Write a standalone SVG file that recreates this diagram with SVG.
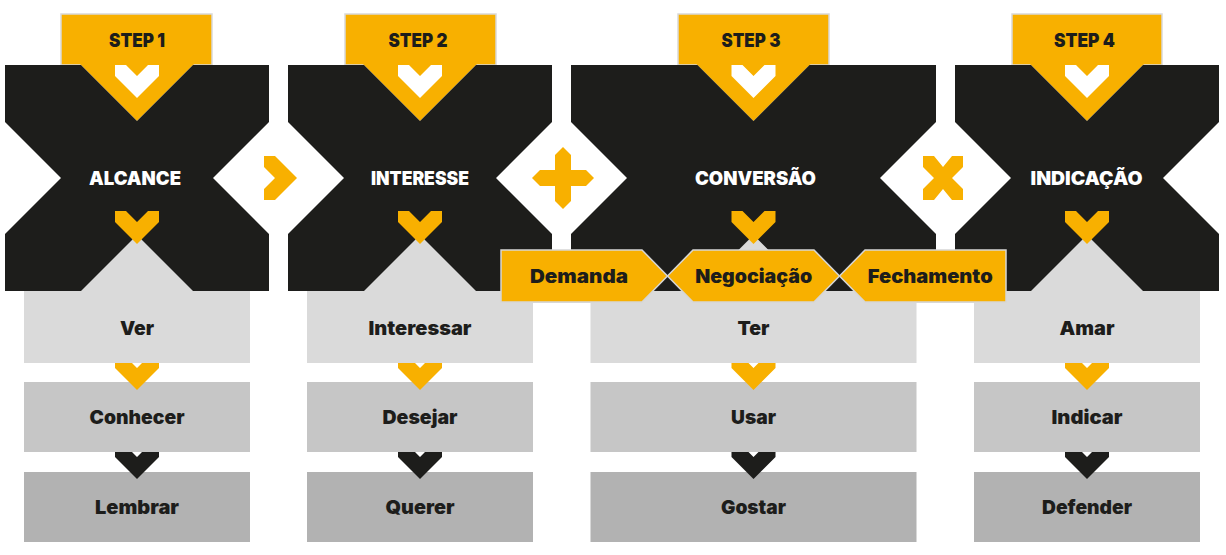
<svg xmlns="http://www.w3.org/2000/svg" xmlns:xlink="http://www.w3.org/1999/xlink" width="1226" height="555" viewBox="0 0 1226 555">
<style>
.blk{fill:#1d1d1b}
.yel{fill:#f8b000}
.tab{fill:#f8b000;stroke:#d9d9d9;stroke-width:1.5}
.stage{fill:#f8b000;stroke:#d6d6d6;stroke-width:1.5}
.b1{fill:#dadada}
.b2{fill:#c6c6c6}
.b3{fill:#b2b2b2}
.t{font-family:Inter,"Noto Sans",sans-serif;font-weight:900;font-size:19px;text-anchor:middle}
.dk{fill:#1d1d1b}
.wt{fill:#ffffff}
</style>
<defs>
<path id="chev" d="M-22,0 h11 l11,11 l11,-11 h11 v11 l-22,22 l-22,-22 z"/>
<path id="cvc" d="M-22,0 h17 l5,5 l5,-5 h17 v5 l-22,22 l-22,-22 z"/>
</defs>
<rect width="1226" height="555" fill="#ffffff"/>

<g id="step1">
<rect class="b3" x="24" y="472" width="226" height="70"/>
<rect class="b2" x="24" y="382" width="226" height="70"/>
<rect class="b1" x="24" y="240" width="226" height="123"/>
<rect class="tab" x="61" y="14" width="151" height="51"/>
<polygon class="yel" points="80,64 194,64 137,121"/>
<polygon class="blk" points="5,65 81,65 137,121 193,65 269,65 269,122 213,178 269,234 269,291 193,291 137,235 81,291 5,291 5,234 61,178 5,122"/>
<use href="#chev" x="137" y="65" fill="#ffffff"/>
<use href="#chev" x="137" y="211" fill="#f8b000"/>
<text class="t dk" x="137" y="47" textLength="56" lengthAdjust="spacingAndGlyphs">STEP 1</text>
<text class="t wt" x="135" y="185" textLength="92" lengthAdjust="spacingAndGlyphs">ALCANCE</text>
<text class="t dk" x="137" y="335" textLength="34" lengthAdjust="spacingAndGlyphs">Ver</text>
<text class="t dk" x="137" y="424" textLength="95" lengthAdjust="spacingAndGlyphs">Conhecer</text>
<text class="t dk" x="137" y="514" textLength="84" lengthAdjust="spacingAndGlyphs">Lembrar</text>
</g>

<g id="step2">
<rect class="b3" x="307" y="472" width="226" height="70"/>
<rect class="b2" x="307" y="382" width="226" height="70"/>
<rect class="b1" x="307" y="240" width="226" height="123"/>
<rect class="tab" x="345" y="14" width="151" height="51"/>
<polygon class="yel" points="363,64 477,64 420,121"/>
<polygon class="blk" points="288,65 364,65 420,121 476,65 552,65 552,122 496,178 552,234 552,291 476,291 420,235 364,291 288,291 288,234 344,178 288,122"/>
<use href="#chev" x="420" y="65" fill="#ffffff"/>
<use href="#chev" x="420" y="211" fill="#f8b000"/>
<text class="t dk" x="418" y="47" textLength="59" lengthAdjust="spacingAndGlyphs">STEP 2</text>
<text class="t wt" x="420" y="185" textLength="98" lengthAdjust="spacingAndGlyphs">INTERESSE</text>
<text class="t dk" x="420" y="335" textLength="103" lengthAdjust="spacingAndGlyphs">Interessar</text>
<text class="t dk" x="420" y="424" textLength="75" lengthAdjust="spacingAndGlyphs">Desejar</text>
<text class="t dk" x="420" y="514" textLength="69" lengthAdjust="spacingAndGlyphs">Querer</text>
</g>

<g id="step3">
<rect class="b3" x="590.5" y="472" width="326" height="70"/>
<rect class="b2" x="590.5" y="382" width="326" height="70"/>
<rect class="b1" x="590.5" y="240" width="326" height="123"/>
<rect class="tab" x="678" y="14" width="151" height="51"/>
<polygon class="yel" points="696.5,64 810.5,64 753.5,121"/>
<polygon class="blk" points="571,65 697.5,65 753.5,121 809.5,65 936,65 936,122 880,178 936,234 936,291 809.5,291 753.5,235 697.5,291 571,291 571,234 627,178 571,122"/>
<use href="#chev" x="753.5" y="65" fill="#ffffff"/>
<use href="#chev" x="753.5" y="211" fill="#f8b000"/>
<text class="t dk" x="751" y="47" textLength="59" lengthAdjust="spacingAndGlyphs">STEP 3</text>
<text class="t wt" x="755.5" y="185" textLength="121" lengthAdjust="spacingAndGlyphs">CONVERSÃO</text>
<text class="t dk" x="753.5" y="335" textLength="32" lengthAdjust="spacingAndGlyphs">Ter</text>
<text class="t dk" x="753.5" y="424" textLength="45" lengthAdjust="spacingAndGlyphs">Usar</text>
<text class="t dk" x="753.5" y="514" textLength="65" lengthAdjust="spacingAndGlyphs">Gostar</text>
</g>

<g id="step4">
<rect class="b3" x="974" y="472" width="226" height="70"/>
<rect class="b2" x="974" y="382" width="226" height="70"/>
<rect class="b1" x="974" y="240" width="226" height="123"/>
<rect class="tab" x="1012" y="14" width="150" height="51"/>
<polygon class="yel" points="1030,64 1144,64 1087,121"/>
<polygon class="blk" points="955,65 1031,65 1087,121 1143,65 1219,65 1219,122 1163,178 1219,234 1219,291 1143,291 1087,235 1031,291 955,291 955,234 1011,178 955,122"/>
<use href="#chev" x="1087" y="65" fill="#ffffff"/>
<use href="#chev" x="1087" y="211" fill="#f8b000"/>
<text class="t dk" x="1084.5" y="47" textLength="61" lengthAdjust="spacingAndGlyphs">STEP 4</text>
<text class="t wt" x="1086.5" y="185" textLength="112" lengthAdjust="spacingAndGlyphs">INDICAÇÃO</text>
<text class="t dk" x="1087" y="335" textLength="55" lengthAdjust="spacingAndGlyphs">Amar</text>
<text class="t dk" x="1087" y="424" textLength="71" lengthAdjust="spacingAndGlyphs">Indicar</text>
<text class="t dk" x="1087" y="514" textLength="90" lengthAdjust="spacingAndGlyphs">Defender</text>
</g>

<rect id="stage-band" class="b1" x="500" y="291" width="506" height="12"/>

<g id="demanda">
<polygon class="stage" points="501,250 642,250 667.5,276 642,302 501,302"/>
<text class="t dk" x="579" y="283" textLength="98" lengthAdjust="spacingAndGlyphs">Demanda</text>
</g>
<g id="negociacao">
<polygon class="stage" points="667.5,276 693,250 814,250 839.5,276 814,302 693,302"/>
<text class="t dk" x="753.7" y="283" textLength="117" lengthAdjust="spacingAndGlyphs">Negociação</text>
</g>
<g id="fechamento">
<polygon class="stage" points="839.5,276 865,250 1006,250 1006,302 865,302"/>
<text class="t dk" x="930.2" y="283" textLength="125" lengthAdjust="spacingAndGlyphs">Fechamento</text>
</g>

<g id="connectors">
<use href="#chev" transform="translate(264,178) rotate(-90)" fill="#f8b000"/>
<polygon class="yel" points="563,147 571,155 571,170 586,170 594,178 586,186 571,186 571,201 563,209 555,201 555,186 540,186 532,178 540,170 555,170 555,155"/>
<polygon class="yel" points="923,156 934,156 943,167 952,156 963,156 963,167 952,178 963,189 963,200 952,200 943,189 934,200 923,200 923,189 934,178 923,167"/>
<use href="#cvc" x="137" y="363" fill="#f8b000"/>
<use href="#cvc" x="137" y="452" fill="#1d1d1b"/>
<use href="#cvc" x="420" y="363" fill="#f8b000"/>
<use href="#cvc" x="420" y="452" fill="#1d1d1b"/>
<use href="#cvc" x="753.5" y="363" fill="#f8b000"/>
<use href="#cvc" x="753.5" y="452" fill="#1d1d1b"/>
<use href="#cvc" x="1087" y="363" fill="#f8b000"/>
<use href="#cvc" x="1087" y="452" fill="#1d1d1b"/>
</g>
</svg>
